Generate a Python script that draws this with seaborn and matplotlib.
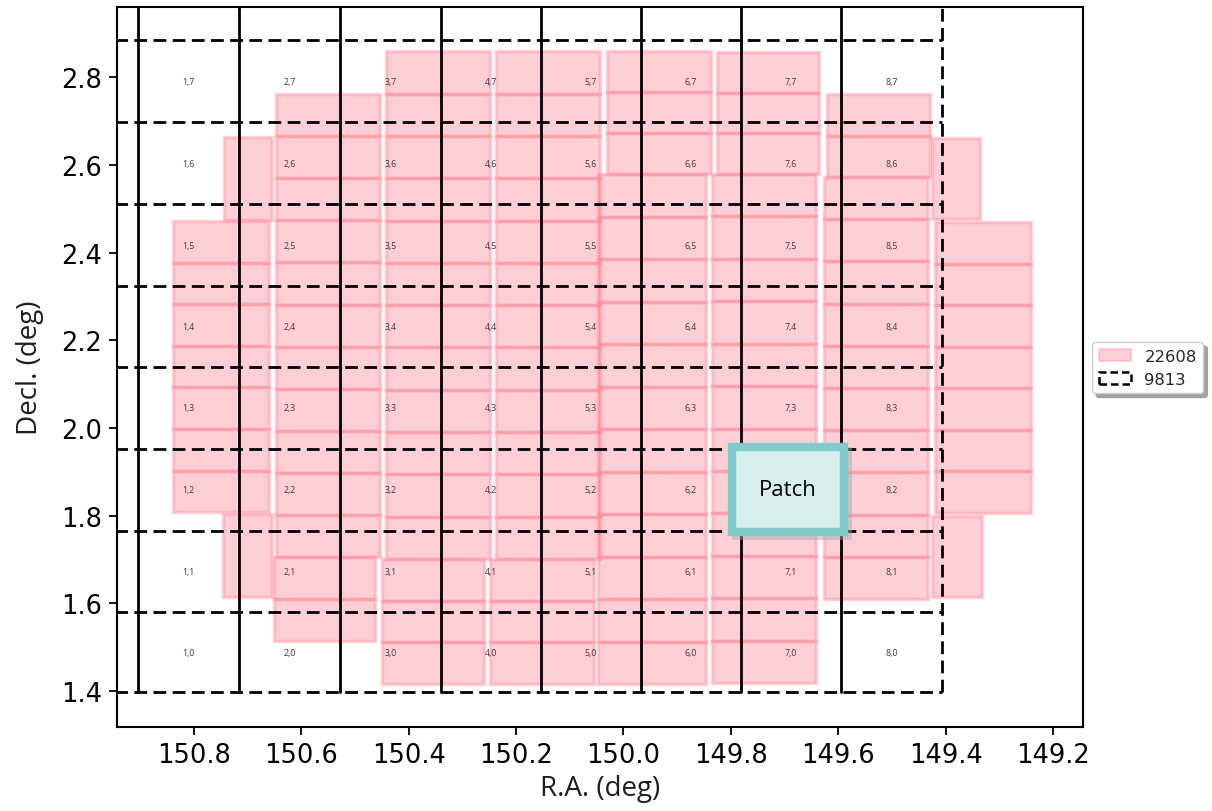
import matplotlib
matplotlib.use("Agg")
import matplotlib.pyplot as plt
from matplotlib.patches import Rectangle, Patch
import seaborn as sns

# ---------------- data ----------------
# tract 9813 patch boundaries (R.A. and Decl., degrees)
patch_ra_edges = [151.090, 150.904, 150.716, 150.528, 150.340, 150.154,
                  149.968, 149.781, 149.595, 149.407]
patch_dec_edges = [1.398, 1.580, 1.765, 1.952, 2.139, 2.323, 2.510,
                   2.697, 2.884, 3.070]
patch_i = [0, 1, 2, 3, 4, 5, 6, 7, 8]
patch_j = [0, 1, 2, 3, 4, 5, 6, 7, 8]

# visit 22608: CCD groups (stacks of CCDs with common edges)
ccd_ra_left = [150.839, 150.744, 150.746, 150.647, 150.651, 150.442, 150.450,
               150.238, 150.249, 150.031, 150.047, 149.826, 149.835, 149.621,
               149.627, 149.420, 149.425, 149.425]
ccd_ra_right = [150.660, 150.655, 150.655, 150.454, 150.463, 150.249, 150.260,
                150.044, 150.055, 149.837, 149.846, 149.636, 149.642, 149.429,
                149.433, 149.241, 149.336, 149.332]
ccd_dec_top = [2.472, 2.663, 1.804, 2.761, 1.706, 2.859, 1.701,
               2.859, 1.701, 2.859, 2.579, 2.857, 2.579, 2.761,
               2.572, 2.469, 2.661, 1.799]
ccd_dec_bottom = [1.808, 2.474, 1.614, 1.706, 1.514, 1.701, 1.416,
                  1.701, 1.416, 2.579, 1.416, 2.579, 1.418, 2.572,
                  1.610, 1.806, 2.476, 1.614]
ccd_count = [7, 1, 1, 11, 2, 12, 3, 12, 3, 3, 12, 3, 12, 2, 10, 7, 1, 1]

x_ticks = [150.8, 150.6, 150.4, 150.2, 150.0, 149.8, 149.6, 149.4, 149.2]
y_ticks = [1.4, 1.6, 1.8, 2.0, 2.2, 2.4, 2.6, 2.8]
visit_label = "22608"
tract_label = "9813"
hidden_label = (7, 2)   # covered by the "Patch" callout in the picture

# ---------------- styling ----------------
sns.set_theme(style="ticks")
plt.rcParams["font.family"] = ["DejaVu Sans"]

W, H = 1212, 812
fig = plt.figure(figsize=(W / 100, H / 100), dpi=100)
ax = fig.add_axes([117 / W, 1 - 728 / H, (1083 - 117) / W, (728 - 8) / H])

ccd_face = (1.0, 0.44, 0.50, 0.33)
ccd_edge = (1.0, 0.50, 0.58, 0.36)

# CCDs
for rl, rr, dt, db, n in zip(ccd_ra_left, ccd_ra_right, ccd_dec_top,
                             ccd_dec_bottom, ccd_count):
    h = (dt - db) / n
    for k in range(n):
        ax.add_patch(Rectangle((rr, db + k * h), rl - rr, h,
                               facecolor=ccd_face, edgecolor=ccd_edge,
                               lw=2.5, zorder=2))

# patch grid of the tract
dash = (0, (4.6, 2.3))
lw_grid = 2.0
for d in patch_dec_edges:
    ax.plot([patch_ra_edges[0], patch_ra_edges[-1]], [d, d], color="black",
            lw=lw_grid, linestyle=dash, zorder=3, solid_capstyle="butt")
for k, r in enumerate(patch_ra_edges):
    ls = dash if k == len(patch_ra_edges) - 1 else "-"
    ax.plot([r, r], [patch_dec_edges[0], patch_dec_edges[-1]], color="black",
            lw=lw_grid, linestyle=ls, zorder=3)

xmin, xmax = 150.943, 149.144
ymin, ymax = 1.318, 2.960
for i in patch_i:
    for j in patch_j:
        if (i, j) == hidden_label:
            continue
        cx = 0.5 * (patch_ra_edges[i] + patch_ra_edges[i + 1])
        cy = 0.5 * (patch_dec_edges[j] + patch_dec_edges[j + 1])
        if xmax < cx < xmin and ymin < cy < ymax:
            ax.text(cx, cy, f"{i},{j}", ha="center", va="center",
                    fontsize=6.3, color="#3a3a3a", zorder=4,
                    family=["Open Sans", "DejaVu Sans"])

ax.set_xlim(xmin, xmax)
ax.set_ylim(ymin, ymax)
ax.set_xticks(x_ticks)
ax.set_yticks(y_ticks)
ax.set_xticklabels([f"{v:.1f}" for v in x_ticks])
ax.set_yticklabels([f"{v:.1f}" for v in y_ticks])
ax.tick_params(axis="both", direction="out", length=6, width=1.3,
               labelsize=18.5, colors="black", pad=5)
for s in ax.spines.values():
    s.set_linewidth(1.5)
    s.set_color("black")

ax.set_xlabel("R.A. (deg)", fontsize=20, family=["Open Sans", "DejaVu Sans"],
              color="#1e1e1e", labelpad=4)
ax.set_ylabel("Decl. (deg)", fontsize=20, family=["Open Sans", "DejaVu Sans"],
              color="#1e1e1e", labelpad=12)

handles = [Patch(facecolor=ccd_face, edgecolor=ccd_edge, lw=1.2, label=visit_label),
           Patch(facecolor="none", edgecolor="black", lw=1.8, linestyle=(0, (3, 1.6)),
                 label=tract_label)]
leg = ax.legend(handles=handles, loc="upper left",
                bbox_to_anchor=(1092 / W, 1 - 343 / H),
                bbox_transform=fig.transFigure, borderaxespad=0,
                fontsize=11.8, frameon=True, fancybox=True,
                shadow={"color": "#9a9a9a", "alpha": 0.9, "ox": 3, "oy": -3},
                edgecolor="#cfcfcf", framealpha=1)

# "Patch" callout box
bx0, by0, bx1, by1 = 728, 444, 848, 537
fig.add_artist(Rectangle(((bx0 + 4) / W, 1 - (by1 + 4) / H), (bx1 - bx0) / W,
                         (by1 - by0) / H, transform=fig.transFigure,
                         facecolor="#9aa8a8", edgecolor="none", alpha=0.45,
                         zorder=5))
fig.add_artist(Rectangle(((bx0 + 4) / W, 1 - (by1 - 4) / H), (bx1 - bx0 - 8) / W,
                         (by1 - by0 - 8) / H, transform=fig.transFigure,
                         facecolor="#d6eeee", edgecolor="#80caca", lw=6,
                         zorder=6))
fig.text((bx0 + bx1) / 2 / W, 1 - (by0 + by1) / 2 / H, "Patch",
         ha="center", va="center", fontsize=16, color="black",
         family=["Open Sans", "DejaVu Sans"], zorder=7)

fig.savefig("out.png", dpi=100)
